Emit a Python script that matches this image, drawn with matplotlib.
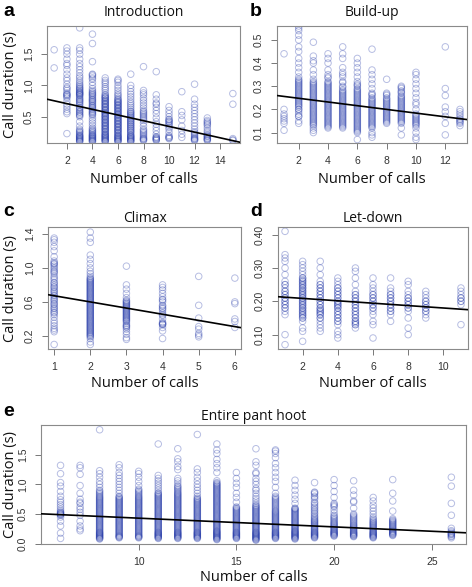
import matplotlib
matplotlib.use("Agg")
import matplotlib.pyplot as plt

# ---------------- data ----------------
# Panel a: Introduction  (x = number of calls -> call durations)
intro_x = [1, 2, 3, 4, 5, 6, 7, 8, 9, 10, 11, 12, 13, 15]
intro_y = [
    [1.28, 1.57],
    [0.23, 0.55, 0.58, 0.62, 0.66, 0.70, 0.75, 0.80, 0.85, 0.86, 0.92, 0.97, 1.02, 1.08, 1.12, 1.18, 1.25, 1.32, 1.35, 1.42, 1.50, 1.55, 1.60],
    [0.10, 0.12, 0.14, 0.16, 0.18, 0.20, 0.23, 0.26, 0.28, 0.30, 0.35, 0.42, 0.50, 0.52, 0.55, 0.58, 0.62, 0.65, 0.68, 0.72, 0.75, 0.78, 0.80, 0.84, 0.86, 0.88, 0.90, 0.93, 0.96, 1.00, 1.02, 1.05, 1.08, 1.12, 1.15, 1.20, 1.25, 1.30, 1.35, 1.42, 1.50, 1.56, 1.60, 1.92],
    [0.10, 0.12, 0.14, 0.16, 0.18, 0.20, 0.22, 0.25, 0.28, 0.32, 0.36, 0.40, 0.44, 0.48, 0.52, 0.55, 0.58, 0.62, 0.65, 0.68, 0.72, 0.75, 0.78, 0.82, 0.85, 0.88, 0.92, 0.95, 1.00, 1.05, 1.10, 1.15, 1.18, 1.38, 1.67, 1.82],
    [0.10, 0.12, 0.14, 0.16, 0.18, 0.20, 0.22, 0.25, 0.27, 0.30, 0.32, 0.35, 0.37, 0.40, 0.42, 0.45, 0.47, 0.50, 0.52, 0.55, 0.57, 0.60, 0.62, 0.65, 0.67, 0.70, 0.72, 0.75, 0.77, 0.80, 0.82, 0.85, 0.88, 0.92, 0.95, 0.98, 1.02, 1.05, 1.08, 1.12],
    [0.10, 0.12, 0.14, 0.16, 0.18, 0.20, 0.23, 0.25, 0.28, 0.30, 0.33, 0.35, 0.38, 0.40, 0.43, 0.45, 0.48, 0.50, 0.53, 0.55, 0.58, 0.60, 0.63, 0.65, 0.68, 0.70, 0.73, 0.75, 0.78, 0.80, 0.83, 0.85, 0.88, 0.92, 0.96, 1.00, 1.05, 1.08, 1.10],
    [0.10, 0.12, 0.14, 0.16, 0.18, 0.20, 0.23, 0.26, 0.29, 0.32, 0.35, 0.38, 0.41, 0.44, 0.47, 0.50, 0.53, 0.56, 0.59, 0.62, 0.65, 0.68, 0.71, 0.74, 0.78, 0.82, 0.86, 0.90, 0.95, 1.00, 1.18],
    [0.12, 0.15, 0.18, 0.22, 0.26, 0.30, 0.35, 0.40, 0.44, 0.48, 0.52, 0.56, 0.60, 0.64, 0.68, 0.72, 0.76, 0.80, 0.85, 0.88, 0.92, 1.30],
    [0.12, 0.14, 0.16, 0.18, 0.22, 0.28, 0.33, 0.38, 0.42, 0.48, 0.55, 0.60, 0.65, 0.70, 0.72, 0.78, 0.85, 1.22],
    [0.15, 0.17, 0.20, 0.25, 0.30, 0.33, 0.36, 0.40, 0.43, 0.46, 0.50, 0.55, 0.60, 0.66],
    [0.17, 0.22, 0.28, 0.35, 0.45, 0.52, 0.58, 0.90],
    [0.12, 0.15, 0.18, 0.22, 0.26, 0.30, 0.35, 0.40, 0.45, 0.50, 0.55, 0.60, 0.65, 0.70, 0.78, 1.02],
    [0.12, 0.15, 0.18, 0.20, 0.25, 0.28, 0.32, 0.36, 0.40, 0.44, 0.48],
    [0.12, 0.15, 0.70, 0.87],
]
# further observations in the crowded parts of each column
intro_y_more = [
    [],
    [0.82, 0.84, 0.88, 0.95],
    [0.11, 0.13, 0.15, 0.17, 0.19, 0.21, 0.25, 0.53, 0.57, 0.60, 0.64, 0.70, 0.74, 0.77, 0.82, 0.85, 0.87, 0.89, 0.92, 0.95, 0.98],
    [0.11, 0.13, 0.15, 0.17, 0.19, 0.21, 0.24, 0.27, 0.30, 0.54, 0.57, 0.60, 0.64, 0.67, 0.70, 0.74, 0.77, 0.80, 0.84, 0.87, 0.90, 1.12, 1.17],
    [0.11, 0.13, 0.15, 0.17, 0.19, 0.21, 0.23, 0.26, 0.29, 0.31, 0.34, 0.36, 0.39, 0.41, 0.44, 0.46, 0.49, 0.51, 0.54, 0.56, 0.59, 0.61, 0.64, 0.66, 0.69, 0.71, 0.74, 0.76, 0.79, 0.81, 0.84],
    [0.11, 0.13, 0.15, 0.17, 0.19, 0.21, 0.24, 0.27, 0.29, 0.32, 0.34, 0.37, 0.39, 0.42, 0.44, 0.47, 0.49, 0.52, 0.54, 0.57, 0.59, 0.62, 0.64, 0.67, 0.69, 0.72, 0.74, 0.77],
    [0.11, 0.13, 0.15, 0.17, 0.19, 0.21, 0.25, 0.28, 0.31, 0.34, 0.37, 0.40, 0.43, 0.46, 0.49, 0.52, 0.55, 0.58],
    [0.13, 0.14, 0.16, 0.20, 0.24, 0.28, 0.46, 0.50, 0.54, 0.58],
    [0.13, 0.15, 0.17],
    [0.16, 0.18, 0.38, 0.42, 0.45],
    [],
    [0.13, 0.14, 0.16, 0.20, 0.24],
    [0.13, 0.14, 0.16, 0.19, 0.22, 0.38, 0.42],
    [0.13],
]
intro_fit = (0.80, -0.0455)   # intercept, slope

# Panel b: Build-up
build_x = [1, 2, 3, 4, 5, 6, 7, 8, 9, 10, 12, 13]
build_y = [
    [0.11, 0.14, 0.15, 0.16, 0.17, 0.18, 0.20, 0.44],
    [0.14, 0.15, 0.17, 0.17, 0.19, 0.20, 0.21, 0.22, 0.23, 0.24, 0.25, 0.26, 0.27, 0.28, 0.29, 0.30, 0.31, 0.32, 0.33, 0.34, 0.36, 0.38, 0.40, 0.42, 0.45, 0.47, 0.50, 0.52, 0.54, 0.55, 0.56],
    [0.10, 0.11, 0.12, 0.13, 0.14, 0.15, 0.16, 0.17, 0.18, 0.19, 0.20, 0.21, 0.22, 0.23, 0.24, 0.25, 0.26, 0.27, 0.28, 0.29, 0.30, 0.31, 0.32, 0.33, 0.35, 0.37, 0.40, 0.41, 0.43, 0.49],
    [0.12, 0.13, 0.14, 0.15, 0.16, 0.17, 0.18, 0.19, 0.20, 0.21, 0.22, 0.23, 0.24, 0.25, 0.26, 0.27, 0.28, 0.29, 0.30, 0.31, 0.32, 0.34, 0.35, 0.37, 0.40, 0.42, 0.44],
    [0.12, 0.13, 0.14, 0.15, 0.16, 0.17, 0.18, 0.19, 0.20, 0.21, 0.22, 0.23, 0.24, 0.25, 0.26, 0.27, 0.28, 0.30, 0.32, 0.34, 0.35, 0.36, 0.38, 0.42, 0.44, 0.47],
    [0.07, 0.10, 0.11, 0.12, 0.13, 0.14, 0.15, 0.16, 0.17, 0.18, 0.19, 0.20, 0.21, 0.22, 0.23, 0.24, 0.25, 0.26, 0.27, 0.28, 0.29, 0.30, 0.31, 0.32, 0.34, 0.36, 0.38, 0.40, 0.42],
    [0.08, 0.09, 0.10, 0.12, 0.13, 0.14, 0.15, 0.16, 0.17, 0.18, 0.19, 0.20, 0.21, 0.22, 0.23, 0.24, 0.25, 0.26, 0.27, 0.29, 0.31, 0.33, 0.35, 0.37, 0.46],
    [0.14, 0.15, 0.16, 0.17, 0.18, 0.19, 0.20, 0.21, 0.22, 0.23, 0.24, 0.25, 0.26, 0.27, 0.33],
    [0.09, 0.12, 0.14, 0.15, 0.16, 0.17, 0.18, 0.19, 0.20, 0.21, 0.22, 0.23, 0.24, 0.25, 0.26, 0.27, 0.28, 0.29, 0.30],
    [0.07, 0.08, 0.10, 0.12, 0.13, 0.14, 0.15, 0.16, 0.17, 0.18, 0.20, 0.22, 0.23, 0.25, 0.27, 0.29, 0.31, 0.33, 0.35, 0.36],
    [0.09, 0.14, 0.17, 0.19, 0.21, 0.26, 0.29, 0.47],
    [0.13, 0.14, 0.15, 0.16, 0.17, 0.18, 0.19, 0.20],
]
build_y_more = [
    [],
    [0.18, 0.20, 0.215, 0.225, 0.235, 0.245, 0.255, 0.265, 0.275, 0.285, 0.295, 0.305, 0.315, 0.325],
    [0.135, 0.145, 0.155, 0.165, 0.175, 0.185, 0.195, 0.205, 0.215, 0.225, 0.235, 0.245, 0.255, 0.265, 0.275, 0.285, 0.295, 0.305, 0.315],
    [0.125, 0.135, 0.145, 0.155, 0.165, 0.175, 0.185, 0.195, 0.205, 0.215, 0.225, 0.235, 0.245, 0.255, 0.265, 0.275, 0.285, 0.295, 0.305, 0.315, 0.335],
    [0.125, 0.135, 0.145, 0.155, 0.165, 0.175, 0.185, 0.195, 0.205, 0.215, 0.225, 0.235, 0.245, 0.255, 0.265, 0.275, 0.285, 0.295, 0.315],
    [0.105, 0.115, 0.125, 0.135, 0.145, 0.155, 0.165, 0.175, 0.185, 0.195, 0.205, 0.215, 0.225, 0.235, 0.245, 0.255, 0.265, 0.275, 0.285, 0.305],
    [0.125, 0.135, 0.145, 0.155, 0.165, 0.175, 0.185, 0.195, 0.205, 0.215, 0.225, 0.235, 0.245, 0.265],
    [0.145, 0.155, 0.165, 0.175, 0.185, 0.195, 0.205, 0.215, 0.225, 0.235, 0.245, 0.265],
    [0.145, 0.155, 0.165, 0.175, 0.185, 0.195, 0.205, 0.215, 0.225, 0.235, 0.245, 0.255, 0.275, 0.295],
    [0.135, 0.145, 0.155, 0.165, 0.175],
    [],
    [0.145, 0.155],
]
build_fit = (0.264, -0.0080)

# Panel c: Climax
climax_x = [1, 2, 3, 4, 5, 6]
climax_y = [
    [0.10, 0.25, 0.27, 0.29, 0.32, 0.35, 0.38, 0.42, 0.45, 0.48, 0.50, 0.52, 0.55, 0.58, 0.60, 0.62, 0.65, 0.68, 0.70, 0.72, 0.75, 0.78, 0.80, 0.83, 0.86, 0.90, 0.93, 0.96, 1.00, 1.02, 1.05, 1.08, 1.13, 1.20, 1.25, 1.30, 1.33, 1.35],
    [0.10, 0.13, 0.17, 0.19, 0.21, 0.23, 0.25, 0.27, 0.29, 0.31, 0.33, 0.35, 0.37, 0.39, 0.41, 0.43, 0.45, 0.47, 0.49, 0.51, 0.53, 0.55, 0.57, 0.59, 0.61, 0.63, 0.65, 0.67, 0.69, 0.71, 0.73, 0.75, 0.77, 0.79, 0.81, 0.83, 0.85, 0.87, 0.90, 0.93, 0.96, 1.00, 1.05, 1.10, 1.15, 1.30, 1.35, 1.42],
    [0.16, 0.18, 0.22, 0.25, 0.28, 0.30, 0.32, 0.35, 0.38, 0.40, 0.42, 0.44, 0.46, 0.48, 0.50, 0.52, 0.54, 0.56, 0.58, 0.60, 0.62, 0.65, 0.70, 0.75, 0.80, 1.02],
    [0.17, 0.26, 0.30, 0.33, 0.34, 0.36, 0.40, 0.44, 0.47, 0.50, 0.53, 0.56, 0.60, 0.63, 0.66, 0.70, 0.74, 0.77, 0.80],
    [0.19, 0.21, 0.23, 0.28, 0.31, 0.41, 0.56, 0.90],
    [0.30, 0.37, 0.40, 0.58, 0.60, 0.88],
]
climax_y_more = [
    [0.47, 0.53, 0.57, 0.63, 0.67, 0.73, 0.77, 0.82, 0.88, 0.95, 0.98, 1.04, 1.06],
    [0.20, 0.22, 0.24, 0.26, 0.28, 0.30, 0.32, 0.34, 0.36, 0.38, 0.40, 0.42, 0.44, 0.46, 0.48, 0.50, 0.52, 0.54, 0.56, 0.58, 0.60, 0.62, 0.64, 0.66, 0.68, 0.70, 0.72, 0.74, 0.76, 0.78, 0.80, 0.82, 0.84, 0.86, 0.88],
    [0.31, 0.33, 0.37, 0.39, 0.41, 0.43, 0.45, 0.47, 0.49, 0.51, 0.53, 0.55, 0.57, 0.59, 0.61],
    [0.34, 0.35, 0.45, 0.52, 0.55, 0.62],
    [],
    [],
]
climax_fit = (0.745, -0.0725)

# Panel d: Let-down
letdown_x = [1, 2, 3, 4, 5, 6, 7, 8, 9, 11]
letdown_y = [
    [0.07, 0.10, 0.16, 0.17, 0.18, 0.19, 0.20, 0.21, 0.22, 0.23, 0.24, 0.25, 0.26, 0.28, 0.30, 0.32, 0.33, 0.34, 0.41],
    [0.08, 0.11, 0.12, 0.14, 0.15, 0.155, 0.16, 0.165, 0.17, 0.175, 0.18, 0.185, 0.19, 0.195, 0.20, 0.205, 0.21, 0.215, 0.22, 0.225, 0.23, 0.235, 0.24, 0.245, 0.25, 0.255, 0.26, 0.265, 0.27, 0.28, 0.29, 0.30, 0.31, 0.32],
    [0.11, 0.12, 0.13, 0.14, 0.15, 0.16, 0.165, 0.17, 0.175, 0.18, 0.19, 0.20, 0.21, 0.22, 0.23, 0.24, 0.25, 0.26, 0.28, 0.30, 0.32],
    [0.09, 0.10, 0.11, 0.13, 0.14, 0.15, 0.16, 0.17, 0.18, 0.185, 0.19, 0.195, 0.20, 0.21, 0.22, 0.23, 0.24, 0.25, 0.26, 0.27],
    [0.12, 0.13, 0.135, 0.14, 0.15, 0.16, 0.17, 0.18, 0.19, 0.20, 0.21, 0.22, 0.23, 0.25, 0.27, 0.29, 0.30],
    [0.09, 0.13, 0.14, 0.16, 0.17, 0.18, 0.19, 0.20, 0.21, 0.22, 0.23, 0.24, 0.25, 0.27],
    [0.14, 0.16, 0.17, 0.18, 0.19, 0.20, 0.21, 0.22, 0.23, 0.24, 0.27],
    [0.10, 0.12, 0.15, 0.17, 0.18, 0.19, 0.20, 0.21, 0.22, 0.23, 0.25, 0.26],
    [0.15, 0.16, 0.17, 0.18, 0.19, 0.20, 0.21, 0.22, 0.23],
    [0.13, 0.19, 0.20, 0.21, 0.22, 0.23, 0.24],
]
letdown_y_more = [
    [0.18, 0.19, 0.20, 0.21, 0.22, 0.23, 0.25],
    [0.15, 0.16, 0.17, 0.18, 0.19, 0.20, 0.21, 0.22, 0.23, 0.24, 0.25, 0.26, 0.27],
    [0.15, 0.16, 0.17, 0.18, 0.19, 0.20, 0.21, 0.22, 0.23, 0.24, 0.25],
    [0.14, 0.15, 0.16, 0.17, 0.18, 0.19, 0.20, 0.21, 0.22, 0.23, 0.24],
    [0.13, 0.14, 0.15, 0.16, 0.17, 0.18, 0.19, 0.20, 0.21, 0.22],
    [0.18, 0.19, 0.20, 0.21, 0.22],
    [0.17, 0.18, 0.19, 0.20, 0.21, 0.22],
    [0.18, 0.19, 0.20, 0.21],
    [0.17, 0.18, 0.19, 0.20],
    [0.20, 0.21],
]
letdown_fit = (0.216, -0.0036)

# Panel e: Entire pant hoot
entire_x = [6, 7, 8, 9, 10, 11, 12, 13, 14, 15, 16, 17, 18, 19, 20, 21, 22, 23, 26]
entire_y = [
    [0.09, 0.18, 0.30, 0.38, 0.45, 0.48, 0.50, 0.52, 0.55, 0.58, 0.62, 0.66, 0.70, 0.74, 0.80, 0.88, 0.97, 1.03, 1.18, 1.32],
    [0.22, 0.25, 0.30, 0.38, 0.48, 0.53, 0.58, 0.62, 0.68, 0.70, 0.75, 0.85, 0.98, 1.17, 1.28, 1.32],
    [0.08, 0.10, 0.12, 0.14, 0.16, 0.18, 0.20, 0.23, 0.26, 0.29, 0.32, 0.35, 0.38, 0.41, 0.44, 0.47, 0.50, 0.53, 0.56, 0.59, 0.62, 0.65, 0.68, 0.71, 0.74, 0.77, 0.80, 0.84, 0.88, 0.90, 0.95, 1.00, 1.05, 1.12, 1.18, 1.23, 1.92],
    [0.10, 0.12, 0.14, 0.17, 0.20, 0.23, 0.26, 0.29, 0.32, 0.35, 0.38, 0.41, 0.44, 0.47, 0.50, 0.53, 0.56, 0.59, 0.62, 0.65, 0.68, 0.71, 0.74, 0.77, 0.80, 0.85, 0.90, 0.95, 1.00, 1.05, 1.10, 1.15, 1.20, 1.28, 1.33],
    [0.10, 0.12, 0.14, 0.17, 0.20, 0.23, 0.26, 0.29, 0.32, 0.35, 0.38, 0.41, 0.44, 0.47, 0.50, 0.53, 0.56, 0.59, 0.62, 0.65, 0.68, 0.71, 0.74, 0.77, 0.80, 0.84, 0.88, 0.92, 0.98, 1.05, 1.12, 1.18, 1.22],
    [0.10, 0.12, 0.14, 0.16, 0.18, 0.20, 0.23, 0.26, 0.29, 0.32, 0.35, 0.38, 0.41, 0.44, 0.47, 0.50, 0.53, 0.56, 0.59, 0.62, 0.65, 0.68, 0.71, 0.74, 0.77, 0.80, 0.83, 0.86, 0.90, 0.94, 0.98, 1.02, 1.06, 1.10, 1.15, 1.68],
    [0.10, 0.12, 0.14, 0.16, 0.18, 0.20, 0.23, 0.26, 0.29, 0.32, 0.35, 0.38, 0.41, 0.44, 0.47, 0.50, 0.53, 0.56, 0.59, 0.62, 0.65, 0.68, 0.71, 0.74, 0.77, 0.80, 0.83, 0.86, 0.90, 0.94, 0.98, 1.02, 1.06, 1.10, 1.25, 1.30, 1.38, 1.43, 1.60],
    [0.10, 0.12, 0.14, 0.16, 0.18, 0.20, 0.23, 0.26, 0.29, 0.32, 0.35, 0.38, 0.41, 0.44, 0.47, 0.50, 0.53, 0.56, 0.59, 0.62, 0.65, 0.68, 0.71, 0.74, 0.77, 0.80, 0.85, 0.90, 0.95, 1.00, 1.06, 1.12, 1.20, 1.26, 1.84],
    [0.08, 0.10, 0.12, 0.14, 0.16, 0.18, 0.20, 0.22, 0.25, 0.28, 0.31, 0.34, 0.37, 0.40, 0.43, 0.46, 0.49, 0.52, 0.55, 0.58, 0.61, 0.64, 0.67, 0.70, 0.73, 0.76, 0.79, 0.82, 0.85, 0.88, 0.91, 0.94, 0.97, 1.00, 1.03, 1.06, 1.20, 1.28, 1.35, 1.42, 1.52, 1.58, 1.68],
    [0.10, 0.12, 0.14, 0.16, 0.18, 0.20, 0.23, 0.26, 0.29, 0.32, 0.35, 0.38, 0.41, 0.44, 0.47, 0.50, 0.53, 0.56, 0.59, 0.62, 0.70, 0.78, 0.85, 0.95, 1.02, 1.10, 1.20],
    [0.06, 0.08, 0.10, 0.12, 0.14, 0.16, 0.18, 0.20, 0.23, 0.26, 0.29, 0.32, 0.35, 0.38, 0.41, 0.44, 0.47, 0.50, 0.53, 0.56, 0.59, 0.62, 0.65, 0.68, 0.72, 0.76, 0.80, 0.85, 0.90, 0.93, 1.00, 1.05, 1.10, 1.18, 1.20, 1.32, 1.38, 1.60],
    [0.10, 0.12, 0.14, 0.16, 0.18, 0.20, 0.23, 0.26, 0.29, 0.32, 0.35, 0.38, 0.41, 0.44, 0.47, 0.50, 0.53, 0.56, 0.60, 0.64, 0.68, 0.72, 0.76, 0.80, 0.85, 0.95, 1.05, 1.12, 1.20, 1.28, 1.35, 1.45, 1.52, 1.56, 1.58],
    [0.08, 0.10, 0.12, 0.14, 0.16, 0.18, 0.20, 0.22, 0.25, 0.28, 0.31, 0.34, 0.37, 0.40, 0.43, 0.46, 0.49, 0.52, 0.55, 0.58, 0.60, 0.68, 0.75, 0.82, 0.90, 0.98, 1.07],
    [0.10, 0.12, 0.14, 0.16, 0.18, 0.20, 0.23, 0.26, 0.29, 0.32, 0.35, 0.38, 0.41, 0.45, 0.50, 0.55, 0.60, 0.65, 0.70, 0.75, 0.80, 0.84, 0.87, 1.03],
    [0.13, 0.15, 0.17, 0.19, 0.21, 0.24, 0.27, 0.30, 0.33, 0.36, 0.40, 0.44, 0.48, 0.52, 0.57, 0.62, 0.66, 0.68, 0.78, 0.88, 0.98, 1.08],
    [0.12, 0.14, 0.16, 0.18, 0.20, 0.23, 0.26, 0.29, 0.32, 0.36, 0.40, 0.44, 0.48, 0.50, 0.60, 0.70, 0.72, 0.82, 0.90, 1.06],
    [0.10, 0.12, 0.14, 0.16, 0.18, 0.20, 0.23, 0.26, 0.29, 0.32, 0.35, 0.38, 0.42, 0.45, 0.50, 0.55, 0.60, 0.65, 0.72, 0.78],
    [0.14, 0.16, 0.18, 0.20, 0.22, 0.25, 0.28, 0.31, 0.34, 0.37, 0.40, 0.42, 0.55, 0.72, 0.85, 1.08],
    [0.10, 0.12, 0.15, 0.17, 0.20, 0.22, 0.26, 0.48, 0.68, 0.97, 1.12],
]
entire_y_more = [
    [0.49, 0.51, 0.53],
    [],
    [0.09, 0.11, 0.13, 0.15, 0.17, 0.19, 0.215, 0.245, 0.275, 0.305, 0.335, 0.365, 0.395, 0.425, 0.455, 0.485, 0.515, 0.545, 0.575, 0.605, 0.635, 0.665, 0.695, 0.725, 0.755, 0.785, 0.82, 0.86],
    [0.11, 0.13, 0.155, 0.185, 0.215, 0.245, 0.275, 0.305, 0.335, 0.365, 0.395, 0.425, 0.455, 0.485, 0.515, 0.545, 0.575, 0.605, 0.635, 0.665, 0.695, 0.725, 0.755, 0.785],
    [0.11, 0.13, 0.155, 0.185, 0.215, 0.245, 0.275, 0.305, 0.335, 0.365, 0.395, 0.425, 0.455, 0.485, 0.515, 0.545, 0.575, 0.605, 0.635, 0.665, 0.695, 0.725, 0.755, 0.785, 0.82, 0.86, 0.90],
    [0.09, 0.11, 0.13, 0.15, 0.17, 0.19, 0.215, 0.245, 0.275, 0.305, 0.335, 0.365, 0.395, 0.425, 0.455, 0.485, 0.515, 0.545, 0.575, 0.605, 0.635, 0.665, 0.695, 0.725, 0.755, 0.785, 0.815, 0.845],
    [0.09, 0.11, 0.13, 0.15, 0.17, 0.19, 0.215, 0.245, 0.275, 0.305, 0.335, 0.365, 0.395, 0.425, 0.455, 0.485, 0.515, 0.545, 0.575, 0.605, 0.635, 0.665, 0.695, 0.725, 0.755, 0.785, 0.815, 0.845, 0.88, 0.92, 0.96],
    [0.09, 0.11, 0.13, 0.15, 0.17, 0.19, 0.215, 0.245, 0.275, 0.305, 0.335, 0.365, 0.395, 0.425, 0.455, 0.485, 0.515, 0.545, 0.575, 0.605, 0.635, 0.665, 0.695, 0.725, 0.755],
    [0.07, 0.09, 0.11, 0.13, 0.15, 0.17, 0.19, 0.21, 0.235, 0.265, 0.295, 0.325, 0.355, 0.385, 0.415, 0.445, 0.475, 0.505, 0.535, 0.565, 0.595, 0.625, 0.655, 0.685, 0.715, 0.745, 0.775, 0.805, 0.835, 0.865, 0.895, 0.925, 0.955, 0.985, 1.015],
    [0.09, 0.11, 0.13, 0.15, 0.17, 0.19, 0.215, 0.245, 0.275, 0.305, 0.335, 0.365, 0.395, 0.425, 0.455, 0.485, 0.515, 0.545, 0.575, 0.605],
    [0.07, 0.09, 0.11, 0.13, 0.15, 0.17, 0.19, 0.215, 0.245, 0.275, 0.305, 0.335, 0.365, 0.395, 0.425, 0.455, 0.485, 0.515, 0.545, 0.575, 0.605, 0.635],
    [0.09, 0.11, 0.13, 0.15, 0.17, 0.19, 0.215, 0.245, 0.275, 0.305, 0.335, 0.365, 0.395, 0.425, 0.455, 0.485, 0.515, 0.545, 0.58, 0.62, 0.66, 0.70, 0.74, 0.78],
    [0.09, 0.11, 0.13, 0.15, 0.17, 0.19, 0.21, 0.235, 0.265, 0.295, 0.325, 0.355, 0.385, 0.415, 0.445, 0.475, 0.505, 0.535, 0.565, 0.59],
    [0.11, 0.13, 0.15, 0.17, 0.19, 0.215, 0.245, 0.275, 0.305, 0.335, 0.365, 0.395, 0.43, 0.47, 0.52, 0.57, 0.62, 0.68, 0.78, 0.86],
    [0.14, 0.16, 0.18, 0.20, 0.225, 0.255, 0.285, 0.315, 0.345, 0.38, 0.42, 0.46, 0.64],
    [0.13, 0.15, 0.17, 0.19, 0.215, 0.245, 0.275, 0.305, 0.34, 0.38, 0.42, 0.46],
    [0.11, 0.13, 0.15, 0.17, 0.19, 0.215, 0.245, 0.275, 0.305, 0.335, 0.365, 0.40],
    [0.15, 0.17, 0.19, 0.21, 0.235, 0.265, 0.295, 0.325, 0.355, 0.385],
    [0.13, 0.16, 0.18],
]
entire_fit = (0.578, -0.0147)

titles = ["Introduction", "Build-up", "Climax", "Let-down", "Entire pant hoot"]
letters = ["a", "b", "c", "d", "e"]
xlabel = "Number of calls"
ylabel = "Call duration (s)"

# ---------------- style ----------------
W, H = 472, 587
PT_COLOR = "#2338a8"
TXT = "Open Sans"
TICKF = "Liberation Sans"

fig = plt.figure(figsize=(W / 100, H / 100), dpi=100)


def px_axes(l, t, r, b):
    return fig.add_axes([l / W, 1 - b / H, (r - l) / W, (b - t) / H])


def panel(box, xs, ys, ys_more, fit, xlim, ylim, xticks, yticks, ytl, title, title_pad, show_ylabel, xlab_y):
    ax = px_axes(*box)
    for x, col, col2 in zip(xs, ys, ys_more):
        vals = col + col2
        ax.scatter([x] * len(vals), vals, s=22, facecolors="none",
                   edgecolors=PT_COLOR, linewidths=0.7, alpha=0.33, zorder=2)
    ax.axline((0, fit[0]), slope=fit[1], color="black", lw=1.2, zorder=3)
    ax.set_xlim(*xlim)
    ax.set_ylim(*ylim)
    ax.set_xticks(xticks, [str(v) for v in xticks])
    ax.set_yticks(yticks, ytl)
    for lab in ax.get_yticklabels():
        lab.set_rotation(90)
        lab.set_va("center")
    ax.tick_params(axis="both", length=4.5, width=0.7, color="#777777",
                   labelsize=7.5, labelcolor="#333333", pad=5)
    for lab in ax.get_xticklabels() + ax.get_yticklabels():
        lab.set_fontfamily(TICKF)
    for sp in ax.spines.values():
        sp.set_color("#8a8a8a")
        sp.set_linewidth(0.8)
    ax.set_title(title, fontfamily=TXT, fontsize=10, color="#111111", pad=title_pad)
    ax.set_xlabel(xlabel, fontfamily=TXT, fontsize=10.5, color="#111111")
    ax.xaxis.set_label_coords(0.5, xlab_y)
    if show_ylabel:
        l = box[0]
        ax.set_ylabel(ylabel, fontfamily=TXT, fontsize=10.5, color="#111111",
                      ha="center", va="center")
        ax.yaxis.set_label_coords((11 - l) / (box[2] - l), 0.5)
    return ax


panel((47, 26, 240, 143), intro_x, intro_y, intro_y_more, intro_fit, (0.44, 15.56), (0.08, 1.95),
      [2, 4, 6, 8, 10, 12, 14], [0.5, 1.0, 1.5], ["0.5", "1.0", "1.5"],
      titles[0], 7, True, -0.25)
panel((277, 26, 467, 143), build_x, build_y, build_y_more, build_fit, (0.52, 13.48), (0.055, 0.56),
      [2, 4, 6, 8, 10, 12], [0.1, 0.2, 0.3, 0.4, 0.5], ["0.1", "0.2", "0.3", "0.4", "0.5"],
      titles[1], 7, False, -0.25)
panel((48, 227, 241, 349), climax_x, climax_y, climax_y_more, climax_fit, (0.83, 6.17), (0.047, 1.48),
      [1, 2, 3, 4, 5, 6], [0.2, 0.6, 1.0, 1.4], ["0.2", "0.6", "1.0", "1.4"],
      titles[2], 3.5, True, -0.22)
panel((278, 227, 468, 349), letdown_x, letdown_y, letdown_y_more, letdown_fit, (0.6, 11.4), (0.057, 0.423),
      [2, 4, 6, 8, 10], [0.10, 0.20, 0.30, 0.40], ["0.10", "0.20", "0.30", "0.40"],
      titles[3], 3.5, False, -0.22)
panel((41, 425, 466, 544), entire_x, entire_y, entire_y_more, entire_fit, (5.0, 26.75), (-0.004, 2.0),
      [10, 15, 20, 25], [0.0, 0.5, 1.0, 1.5], ["0.0", "0.5", "1.0", "1.5"],
      titles[4], 3.5, True, -0.22)

letter_pos = [(3, 3), (250, 3), (3, 203), (250, 203), (3, 403)]
for (lx, ly), L in zip(letter_pos, letters):
    fig.text(lx / W, 1 - ly / H, L, fontsize=14, fontweight="bold",
             fontfamily="Liberation Sans", va="top", ha="left")

fig.savefig("out.png", dpi=100)
